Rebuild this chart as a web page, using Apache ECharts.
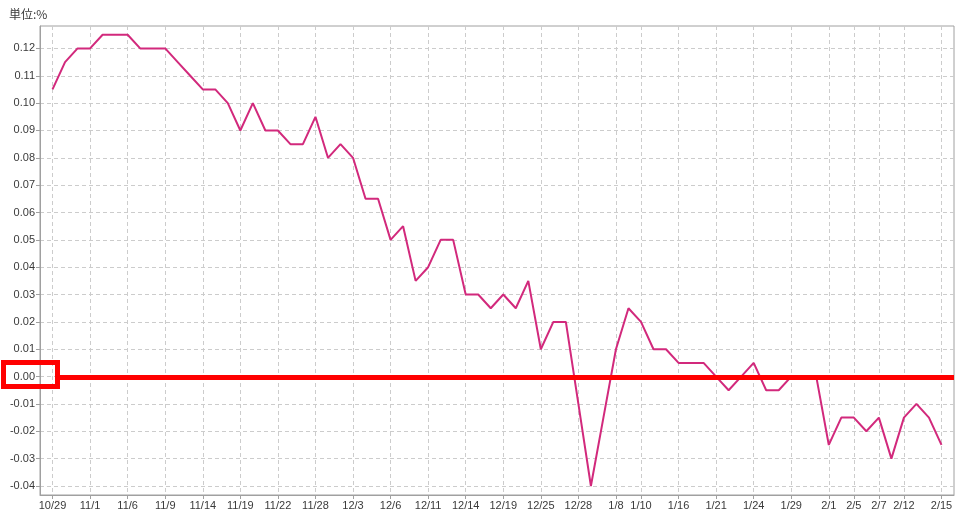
<!DOCTYPE html>
<html><head><meta charset="utf-8">
<script src="https://cdn.jsdelivr.net/npm/echarts@6/dist/echarts.min.js"></script>
<style>html,body{margin:0;padding:0;background:#fff}#c{width:967px;height:524px}</style>
</head><body><div id="c"></div>
<script>
// Trading days (Japan), 2018-10-29 .. 2019-02-15
const categories = [
  '10/29','10/30','10/31','11/1','11/2','11/5','11/6','11/7','11/8','11/9',
  '11/12','11/13','11/14','11/15','11/16','11/19','11/20','11/21','11/22','11/26',
  '11/27','11/28','11/29','11/30','12/3','12/4','12/5','12/6','12/7','12/10',
  '12/11','12/12','12/13','12/14','12/17','12/18','12/19','12/20','12/21','12/25',
  '12/26','12/27','12/28','1/4','1/7','1/8','1/9','1/10','1/11','1/15',
  '1/16','1/17','1/18','1/21','1/22','1/23','1/24','1/25','1/28','1/29',
  '1/30','1/31','2/1','2/4','2/5','2/6','2/7','2/8','2/12','2/13',
  '2/14','2/15'
];
const values = [
  0.105,0.115,0.12,0.12,0.125,0.125,0.125,0.12,0.12,0.12,
  0.115,0.11,0.105,0.105,0.10,0.09,0.10,0.09,0.09,0.085,
  0.085,0.095,0.08,0.085,0.08,0.065,0.065,0.05,0.055,0.035,
  0.04,0.05,0.05,0.03,0.03,0.025,0.03,0.025,0.035,0.01,
  0.02,0.02,-0.01,-0.04,-0.015,0.01,0.025,0.02,0.01,0.01,
  0.005,0.005,0.005,0.0,-0.005,0.0,0.005,-0.005,-0.005,0.0,
  0.0,0.0,-0.025,-0.015,-0.015,-0.02,-0.015,-0.03,-0.015,-0.01,
  -0.015,-0.025
];
const tickLabels = ['10/29','11/1','11/6','11/9','11/14','11/19','11/22','11/28','12/3','12/6',
  '12/11','12/14','12/19','12/25','12/28','1/8','1/10','1/16','1/21','1/24','1/29',
  '2/1','2/5','2/7','2/12','2/15'];
const yTicks = [-0.04,-0.03,-0.02,-0.01,0,0.01,0.02,0.03,0.04,0.05,0.06,0.07,0.08,0.09,0.10,0.11,0.12];
const unitLabel = '単位:%';

const tickSet = new Set(tickLabels);
const axisData = [''].concat(categories, ['']);
const seriesData = [null].concat(values, [null]);
const showAt = (i, v) => tickSet.has(v);
const FONT = "'Liberation Sans', Arial, sans-serif";
const TXT = '#3a3a3a';

const chart = echarts.init(document.getElementById('c'), null, {renderer: 'canvas'});
chart.setOption({
  animation: false,
  backgroundColor: '#fff',
  title: {
    text: unitLabel, left: 4, top: 3,
    textStyle: {fontSize: 12, fontWeight: 'normal', color: TXT, fontFamily: "'Noto Sans CJK JP', sans-serif"}
  },
  grid: {left: 40, right: 13, top: 26, bottom: 29, show: true, borderColor: '#a0a0a0', borderWidth: 1, backgroundColor: 'transparent'},
  xAxis: {
    type: 'category', data: axisData, boundaryGap: false,
    axisLine: {onZero: false, lineStyle: {color: '#a0a0a0'}},
    axisTick: {interval: showAt, length: 4, lineStyle: {color: '#a0a0a0'}},
    axisLabel: {interval: showAt, margin: 5, fontSize: 11, color: TXT, fontFamily: FONT},
    splitLine: {show: true, interval: showAt, lineStyle: {color: '#cccccc', type: [4, 3]}}
  },
  yAxis: {
    type: 'value', min: -0.0433, max: 0.1282,
    axisLine: {show: true, lineStyle: {color: '#a0a0a0'}},
    axisTick: {show: true, length: 4, customValues: yTicks, lineStyle: {color: '#a0a0a0'}},
    axisLabel: {customValues: yTicks, margin: 5, fontSize: 11, color: TXT, fontFamily: FONT,
      formatter: v => v.toFixed(2)},
    splitLine: {show: true, lineStyle: {color: '#cccccc', type: [4, 3]}}
  },
  series: [{
    type: 'line', data: seriesData, showSymbol: false, symbol: 'none',
    lineStyle: {color: '#d2297c', width: 2}, z: 3
  }]
});

// red highlight annotation around the zero level
const y0 = chart.convertToPixel({yAxisIndex: 0}, 0);
const xRight = chart.getWidth() - 13;
chart.setOption({
  graphic: [
    {type: 'rect', z: 100, shape: {x: 3.5, y: y0 - 14.2, width: 54, height: 24},
      style: {fill: 'transparent', stroke: '#ff0000', lineWidth: 5}},
    {type: 'line', z: 100, shape: {x1: 60, y1: y0 + 1, x2: xRight, y2: y0 + 1},
      style: {stroke: '#ff0000', lineWidth: 5}}
  ]
});
</script>
</body></html>
